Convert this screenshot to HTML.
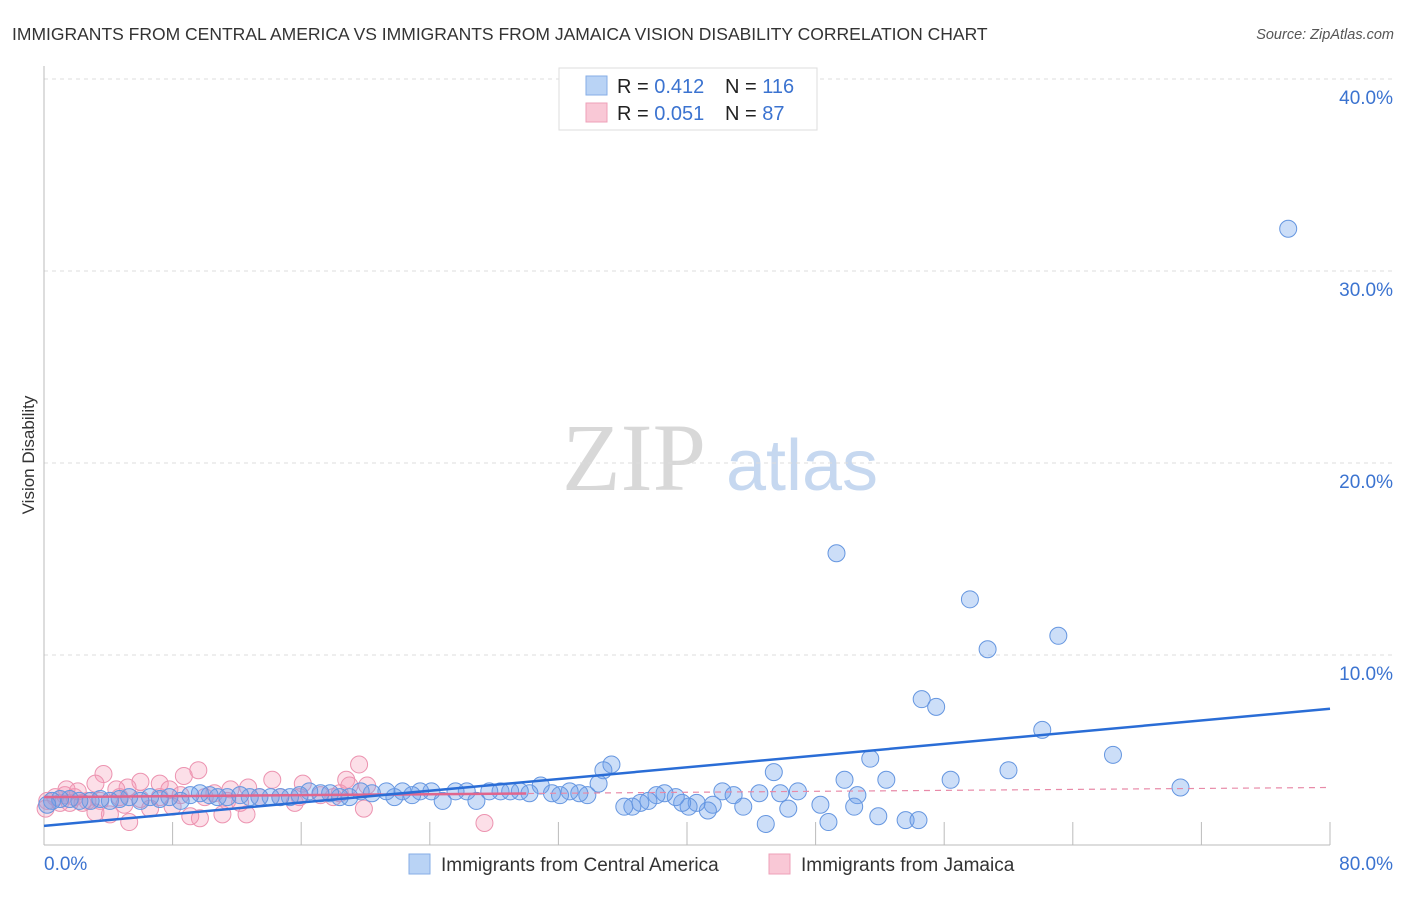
<!DOCTYPE html>
<html><head><meta charset="utf-8"><style>
body{margin:0;background:#fff;font-family:"Liberation Sans",sans-serif;}
svg text{font-family:"Liberation Sans",sans-serif;}
</style></head><body>
<svg width="1406" height="892" xmlns="http://www.w3.org/2000/svg">
<text x="12" y="40" font-size="17.5" fill="#333">IMMIGRANTS FROM CENTRAL AMERICA VS IMMIGRANTS FROM JAMAICA VISION DISABILITY CORRELATION CHART</text>
<text x="1394" y="39" font-size="14.5" fill="#555" font-style="italic" text-anchor="end">Source: ZipAtlas.com</text>
<text x="34" y="455" font-size="17" fill="#333" transform="rotate(-90 34 455)" text-anchor="middle">Vision Disability</text>
<g>
<text x="634" y="490" font-size="96" fill="#d8d8d8" style="font-family:'Liberation Serif',serif" text-anchor="middle">ZIP</text>
<text x="802" y="490" font-size="72" fill="#c6d8f0" text-anchor="middle">atlas</text>
</g>
<g id="grid"></g>
<g id="axes"></g>
<g id="pts"></g>
<g id="lines"></g>
<g>
<rect x="559" y="68" width="258" height="62" fill="#fff" stroke="#ddd"/>
<rect x="586" y="76" width="21" height="19" fill="#b9d3f5" stroke="#86aee6"/>
<rect x="586" y="103" width="21" height="19" fill="#f9c8d6" stroke="#eea0b8"/>
<text x="617" y="93" font-size="20" fill="#222">R = <tspan fill="#3b73d0">0.412</tspan></text>
<text x="725" y="93" font-size="20" fill="#222">N = <tspan fill="#3b73d0">116</tspan></text>
<text x="617" y="120" font-size="20" fill="#222">R = <tspan fill="#3b73d0">0.051</tspan></text>
<text x="725" y="120" font-size="20" fill="#222">N = <tspan fill="#3b73d0"> 87</tspan></text>
</g>
<g>
<rect x="409" y="854" width="21" height="20" fill="#b9d3f5" stroke="#86aee6"/>
<text x="441" y="871" font-size="19" fill="#333">Immigrants from Central America</text>
<rect x="769" y="854" width="21" height="20" fill="#f9c8d6" stroke="#eea0b8"/>
<text x="801" y="871" font-size="19" fill="#333">Immigrants from Jamaica</text>
</g>
</svg>
<script>
const blueX=[77.4,49.3,57.6,58.7,63.1,54.6,55.5,62.1,66.5,51.4,60.0,70.7,45.4,52.4,56.4,49.8,50.6,46.9,45.8,48.3,50.4,51.9,53.6,54.4,48.8,44.9,46.3,43.5,44.5,42.2,42.9,41.6,41.3,40.6,40.1,39.7,39.3,38.6,38.1,37.6,37.1,36.6,36.1,35.3,34.8,34.5,33.8,33.3,32.7,32.1,31.6,30.9,30.2,29.6,29.0,28.4,27.7,26.9,26.3,25.6,24.8,24.1,23.4,22.9,22.3,21.8,21.3,20.4,19.7,19.0,18.4,17.8,17.2,16.5,15.9,15.3,14.7,14.1,13.4,12.8,12.2,11.4,10.8,10.3,9.7,9.1,8.5,7.8,7.2,6.6,6.0,5.3,4.7,4.1,3.5,2.9,2.2,1.6,1.0,0.5,0.2];
const blueY=[32.2,15.3,12.9,10.3,11.0,7.7,7.3,6.1,4.8,4.6,4.0,3.1,3.9,3.5,3.5,3.5,2.7,2.9,2.8,2.2,2.1,1.6,1.4,1.4,1.3,1.2,2.0,2.1,2.8,2.9,2.7,2.2,1.9,2.3,2.1,2.3,2.6,2.8,2.7,2.4,2.3,2.1,2.1,4.3,4.0,3.3,2.7,2.8,2.9,2.7,2.8,3.2,2.8,2.9,2.9,2.9,2.9,2.4,2.9,2.9,2.4,2.9,2.9,2.7,2.9,2.6,2.9,2.8,2.9,2.6,2.6,2.8,2.8,2.9,2.7,2.6,2.6,2.6,2.6,2.6,2.7,2.6,2.6,2.7,2.8,2.7,2.4,2.6,2.5,2.6,2.4,2.6,2.5,2.4,2.5,2.4,2.4,2.5,2.5,2.4,2.2];
const pinkX=[19.6,27.4,9.6,8.7,3.7,3.2,6.0,7.2,7.8,5.2,4.5,14.2,16.1,18.8,20.1,18.0,19.9,15.6,12.7,11.6,10.6,11.1,12.6,9.7,9.1,5.3,4.1,6.6,8.0,2.7,1.9,1.3,0.7,0.2,0.1,1.0,1.6,2.4,3.5,4.7,6.0,7.2,8.5,10.0,11.4,13.4,14.7,15.9,17.2,18.4,19.0,12.2,5.0,3.2,1.4,2.1];
const pinkY=[4.3,1.25,4.0,3.7,3.8,3.3,3.4,3.3,3.0,3.1,3.0,3.5,3.3,3.5,3.2,2.6,2.0,2.3,3.1,3.0,2.8,1.7,1.7,1.5,1.6,1.3,1.7,2.0,2.1,2.4,2.6,2.7,2.6,2.4,2.0,2.3,2.3,2.3,2.4,2.6,2.5,2.6,2.7,2.6,2.4,2.6,2.6,2.6,2.7,2.8,3.2,2.3,2.2,1.8,3.0,2.9];
const yTicks=[10,20,30,40];
const xTickLabels=["0.0%","80.0%"];
const blueTrend=[1.1,7.2];
const pinkTrend=[2.6,3.1];
const NS="http://www.w3.org/2000/svg";
const X0=44,X1=1330,Y0=847,PPY=19.2;
function sx(v){return X0+(v/80)*(X1-X0);}
function sy(v){return Y0-v*PPY;}
function mk(t,a,p){const e=document.createElementNS(NS,t);for(const k in a)e.setAttribute(k,a[k]);document.getElementById(p).appendChild(e);return e;}
yTicks.forEach(v=>{
 const l=mk('line',{x1:X0,x2:1394,y1:sy(v),y2:sy(v),stroke:'#ddd','stroke-dasharray':'4,4'},'grid');
 
 
 const t=mk('text',{x:1393,y:sy(v)+25,'font-size':19,fill:'#3b73d0','text-anchor':'end'},'grid');
 t.textContent=v.toFixed(1)+'%';
 
 
});
const ax=mk('line',{x1:X0,x2:X1,y1:845,y2:845,stroke:'#bbb'},'axes');


const ay=mk('line',{x1:X0,x2:X0,y1:66,y2:845,stroke:'#bbb'},'axes');


for(let i=0;i<=10;i++){
 const tk=mk('line',{x1:sx(i*8),x2:sx(i*8),y1:822,y2:845,stroke:'#bbb'},'axes');
 
 
}
const xl0=mk('text',{x:44,y:870,'font-size':19,fill:'#3b73d0'},'axes');xl0.textContent=xTickLabels[0];


const xl1=mk('text',{x:1393,y:870,'font-size':19,fill:'#3b73d0','text-anchor':'end'},'axes');xl1.textContent=xTickLabels[1];


pinkX.forEach((x,i)=>{
 const c=mk('circle',{cx:sx(x),cy:sy(pinkY[i]),r:8.5,fill:'rgba(244,150,180,0.3)',stroke:'#ec93b0','stroke-width':1},'pts');
 
 
});
blueX.forEach((x,i)=>{
 const c=mk('circle',{cx:sx(x),cy:sy(blueY[i]),r:8.5,fill:'rgba(110,160,235,0.35)',stroke:'#6596e0','stroke-width':1},'pts');
 
 
});
const pd=mk('line',{x1:sx(0),y1:sy(pinkTrend[0]),x2:sx(80),y2:sy(pinkTrend[1]),stroke:'#e88aa8','stroke-width':1.2,'stroke-dasharray':'6,5'},'lines');


const ps=mk('line',{x1:sx(0),y1:sy(pinkTrend[0]),x2:sx(30),y2:sy(pinkTrend[0]+(pinkTrend[1]-pinkTrend[0])*30/80),stroke:'#e0668e','stroke-width':2.5},'lines');


const bl=mk('line',{x1:sx(0),y1:sy(blueTrend[0]),x2:sx(80),y2:sy(blueTrend[1]),stroke:'#2a6dd6','stroke-width':2.5},'lines');


</script>
</body></html>
